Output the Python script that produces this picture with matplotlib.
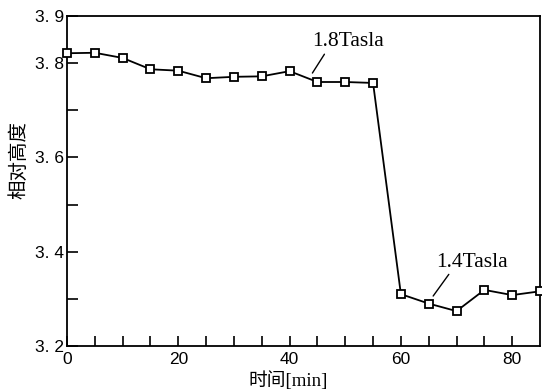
import matplotlib
matplotlib.use("Agg")
import matplotlib.pyplot as plt
from matplotlib.ticker import FixedLocator

time_min = [0, 5, 10, 15, 20, 25, 30, 35, 40, 45, 50, 55, 60, 65, 70, 75, 80, 85]
rel_height = [3.821, 3.822, 3.811, 3.787, 3.784, 3.768, 3.771, 3.772, 3.783, 3.760,
              3.760, 3.758, 3.310, 3.290, 3.274, 3.319, 3.308, 3.316]

x_major = [0, 20, 40, 60, 80]
x_minor = [5, 10, 15, 25, 30, 35, 45, 50, 55, 65, 70, 75]
y_major = [3.2, 3.4, 3.6, 3.8, 3.9]
y_major_labels = ["3. 2", "3. 4", "3. 6", "3. 8", "3. 9"]
y_minor = [3.3, 3.5, 3.7]

label_high = "1.8Tasla"
label_low = "1.4Tasla"

fig = plt.figure(figsize=(5.42, 3.92), dpi=100)
ax = fig.add_axes([67/542, 1-346/392, (540-67)/542, (346-16)/392])

ax.plot(time_min, rel_height, color="black", lw=1.3, marker="s", markersize=6,
        markerfacecolor="white", markeredgecolor="black", markeredgewidth=1.3,
        clip_on=False, zorder=3)

ax.set_xlim(0, 85)
ax.set_ylim(3.2, 3.9)

ax.xaxis.set_major_locator(FixedLocator(x_major))
ax.xaxis.set_minor_locator(FixedLocator(x_minor))
ax.yaxis.set_major_locator(FixedLocator(y_major))
ax.yaxis.set_minor_locator(FixedLocator(y_minor))
ax.set_yticklabels(y_major_labels)

ax.tick_params(axis="x", which="both", direction="in", length=7, width=1.2, pad=4,
               labelsize=12.5)
ax.tick_params(axis="y", which="both", direction="in", length=8, width=1.2, pad=2,
               labelsize=12.5)
for lab in ax.get_xticklabels() + ax.get_yticklabels():
    lab.set_fontfamily("Liberation Sans")

for sp in ax.spines.values():
    sp.set_linewidth(1.3)

ax.annotate(label_high, xy=(44.1, 3.779), xytext=(44.0, 3.845),
            fontsize=15.5, family="Liberation Serif", ha="left", va="center",
            arrowprops=dict(arrowstyle="-", color="black", lw=1.0,
                            shrinkA=0, shrinkB=0, relpos=(0.2, 0.0)))
ax.annotate(label_low, xy=(65.8, 3.306), xytext=(66.4, 3.378),
            fontsize=15.5, family="Liberation Serif", ha="left", va="center",
            arrowprops=dict(arrowstyle="-", color="black", lw=1.0,
                            shrinkA=0, shrinkB=0, relpos=(0.2, 0.0)))

fig.text(19/542, 1-160/392, "相对高度", rotation=90, ha="center", va="center",
         fontsize=14, family=["Noto Sans CJK SC", "DejaVu Sans"])
fig.text(288/542, 1-381/392, "时间[min]", ha="center", va="center",
         fontsize=13.5, family=["Liberation Serif", "Noto Sans CJK SC"])

fig.savefig("out.png", dpi=100)
